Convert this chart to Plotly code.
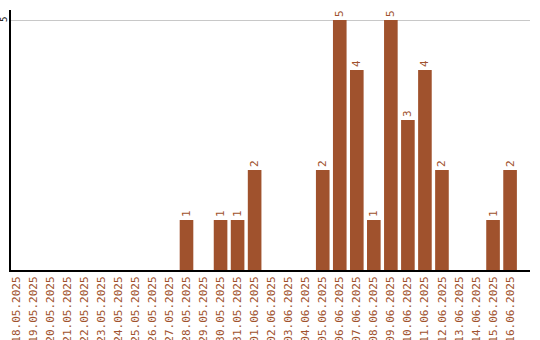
import plotly.graph_objects as go

dates = ["18.05.2025","19.05.2025","20.05.2025","21.05.2025","22.05.2025","23.05.2025",
         "24.05.2025","25.05.2025","26.05.2025","27.05.2025","28.05.2025","29.05.2025",
         "30.05.2025","31.05.2025","01.06.2025","02.06.2025","03.06.2025","04.06.2025",
         "05.06.2025","06.06.2025","07.06.2025","08.06.2025","09.06.2025","10.06.2025",
         "11.06.2025","12.06.2025","13.06.2025","14.06.2025","15.06.2025","16.06.2025"]
values = [0,0,0,0,0,0,0,0,0,0,1,0,1,1,2,0,0,0,2,5,4,1,5,3,4,2,0,0,1,2]
y_ticks = [5]

color = "#A0522D"
font = "DejaVu Sans Mono"

labels = [str(v) if v > 0 else "" for v in values]

fig = go.Figure(go.Bar(
    x=list(range(len(dates))), y=values, text=labels,
    textposition="outside", textangle=-90,
    textfont=dict(family=font, size=11, color=color),
    marker=dict(color=color, line=dict(width=0)),
    width=0.8, cliponaxis=False,
))

for t in y_ticks:
    fig.add_annotation(
        x=0, xref="paper", y=t, yref="y", text=str(t), textangle=-90,
        xanchor="right", yanchor="middle", xshift=-1, showarrow=False,
        font=dict(family=font, size=9, color="black"),
        borderpad=0,
    )

fig.update_layout(
    width=540, height=340,
    margin=dict(l=11, r=10, t=10, b=70, autoexpand=False),
    paper_bgcolor="white", plot_bgcolor="white",
    showlegend=False,
    xaxis=dict(
        tickmode="array", tickvals=list(range(len(dates))), ticktext=dates,
        tickangle=-90, range=[-0.305, 30.17],
        tickfont=dict(family=font, size=11, color=color),
        showgrid=False, zeroline=False, showline=True, linecolor="black", linewidth=2,
        ticks="", automargin=False,
    ),
    yaxis=dict(
        range=[0, 5.2], tickvals=y_ticks, showticklabels=False,
        showgrid=True, gridcolor="#c8c8c8", gridwidth=1,
        zeroline=False, showline=True, linecolor="black", linewidth=2,
        ticks="", automargin=False,
    ),
)

fig.write_html("out.html")
